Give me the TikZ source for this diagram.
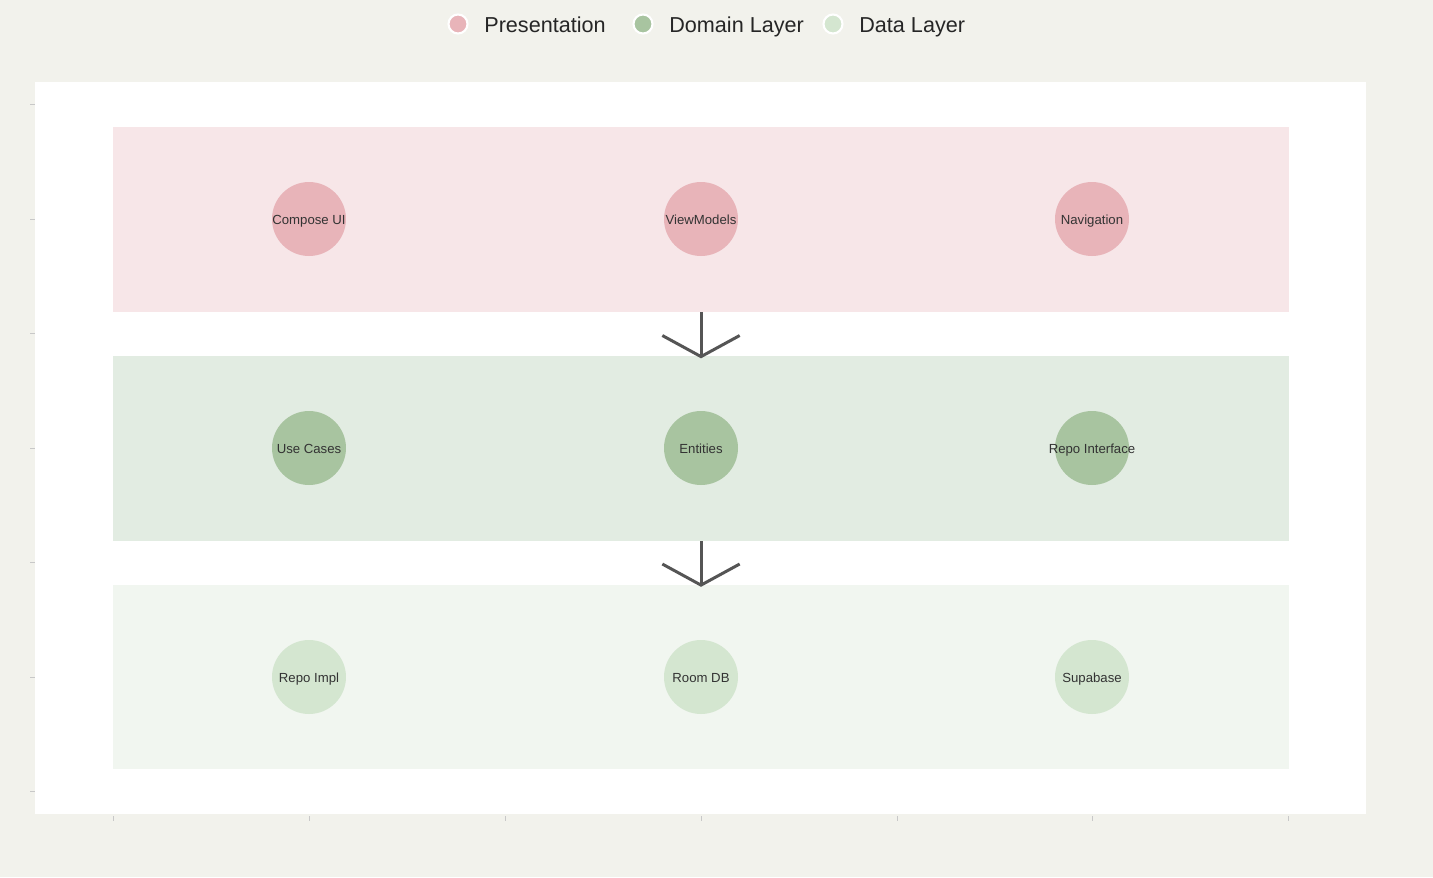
\documentclass[tikz,border=0pt]{standalone}
\usepackage{fontspec}
\setmainfont{Liberation Sans}
\usetikzlibrary{arrows.meta}
\definecolor{bgc}{HTML}{F2F2EC}
\definecolor{presband}{HTML}{F7E6E8}
\definecolor{presnode}{HTML}{E8B4B9}
\definecolor{domband}{HTML}{E2ECE2}
\definecolor{domnode}{HTML}{A8C4A0}
\definecolor{databand}{HTML}{F1F6F0}
\definecolor{datanode}{HTML}{D4E6D0}
\definecolor{txt}{HTML}{333333}
\definecolor{arrowc}{HTML}{555555}
\definecolor{tickc}{HTML}{C8C8C8}
\begin{document}
\begin{tikzpicture}[x=0.02cm,y=-0.02cm,
  band/.style={rectangle,inner sep=0pt,minimum width=23.52cm,minimum height=3.7cm},
  layer/.style={circle,inner sep=0pt,minimum size=1.48cm,text=txt,font=\fontsize{7.5}{9}\selectfont,
    text height=1.5ex,text depth=0.3ex,
    execute at begin node={\hbox to 0pt\bgroup\hss},execute at end node={\hss\egroup}},
  legdot/.style={circle,inner sep=0pt,minimum size=0.38cm,draw=white,line width=1.2pt},
  legtxt/.style={anchor=base west,inner sep=0pt,text=black!85,font=\fontsize{12.3}{14}\selectfont},
  flow/.style={draw=arrowc,line width=1.7pt,shorten >=-1.5pt,-{Straight Barb[length=12pt,width=44pt,line width=1.7pt]}}]
\fill[bgc] (0,0) rectangle (1433,877);
\fill[white] (35,82) rectangle (1366,814);
\foreach \ty in {104,219,333,448,562,677,791} \draw[tickc,line width=0.5pt] (30,\ty) -- (35,\ty);
\foreach \tx in {113,309,505,701,897,1092,1288} \draw[tickc,line width=0.5pt] (\tx,816) -- (\tx,821);
\node[legdot,fill=presnode] (l1) at (458,24) {};
\node[legtxt] (t1) at (484,32) {Presentation};
\node[legdot,fill=domnode] (l2) at (643,24) {};
\node[legtxt] (t2) at (669,32) {Domain Layer};
\node[legdot,fill=datanode] (l3) at (833,24) {};
\node[legtxt] (t3) at (859,32) {Data Layer};
\node[band,fill=presband] (pres) at (701,219.5) {};
\node[band,fill=domband] (dom) at (701,448.5) {};
\node[band,fill=databand] (data) at (701,677) {};
\node[layer,fill=presnode] (ui) at (309,219) {Compose UI};
\node[layer,fill=presnode] (vm) at (701,219) {ViewModels};
\node[layer,fill=presnode] (nav) at (1092,219) {Navigation};
\node[layer,fill=domnode] (uc) at (309,448) {Use Cases};
\node[layer,fill=domnode] (ent) at (701,448) {Entities};
\node[layer,fill=domnode] (ri) at (1092,448) {Repo Interface};
\node[layer,fill=datanode] (impl) at (309,677) {Repo Impl};
\node[layer,fill=datanode] (room) at (701,677) {Room DB};
\node[layer,fill=datanode] (supa) at (1092,677) {Supabase};
\draw[flow] (pres.south) -- (dom.north);
\draw[flow] (dom.south) -- (data.north);
\end{tikzpicture}
\end{document}
